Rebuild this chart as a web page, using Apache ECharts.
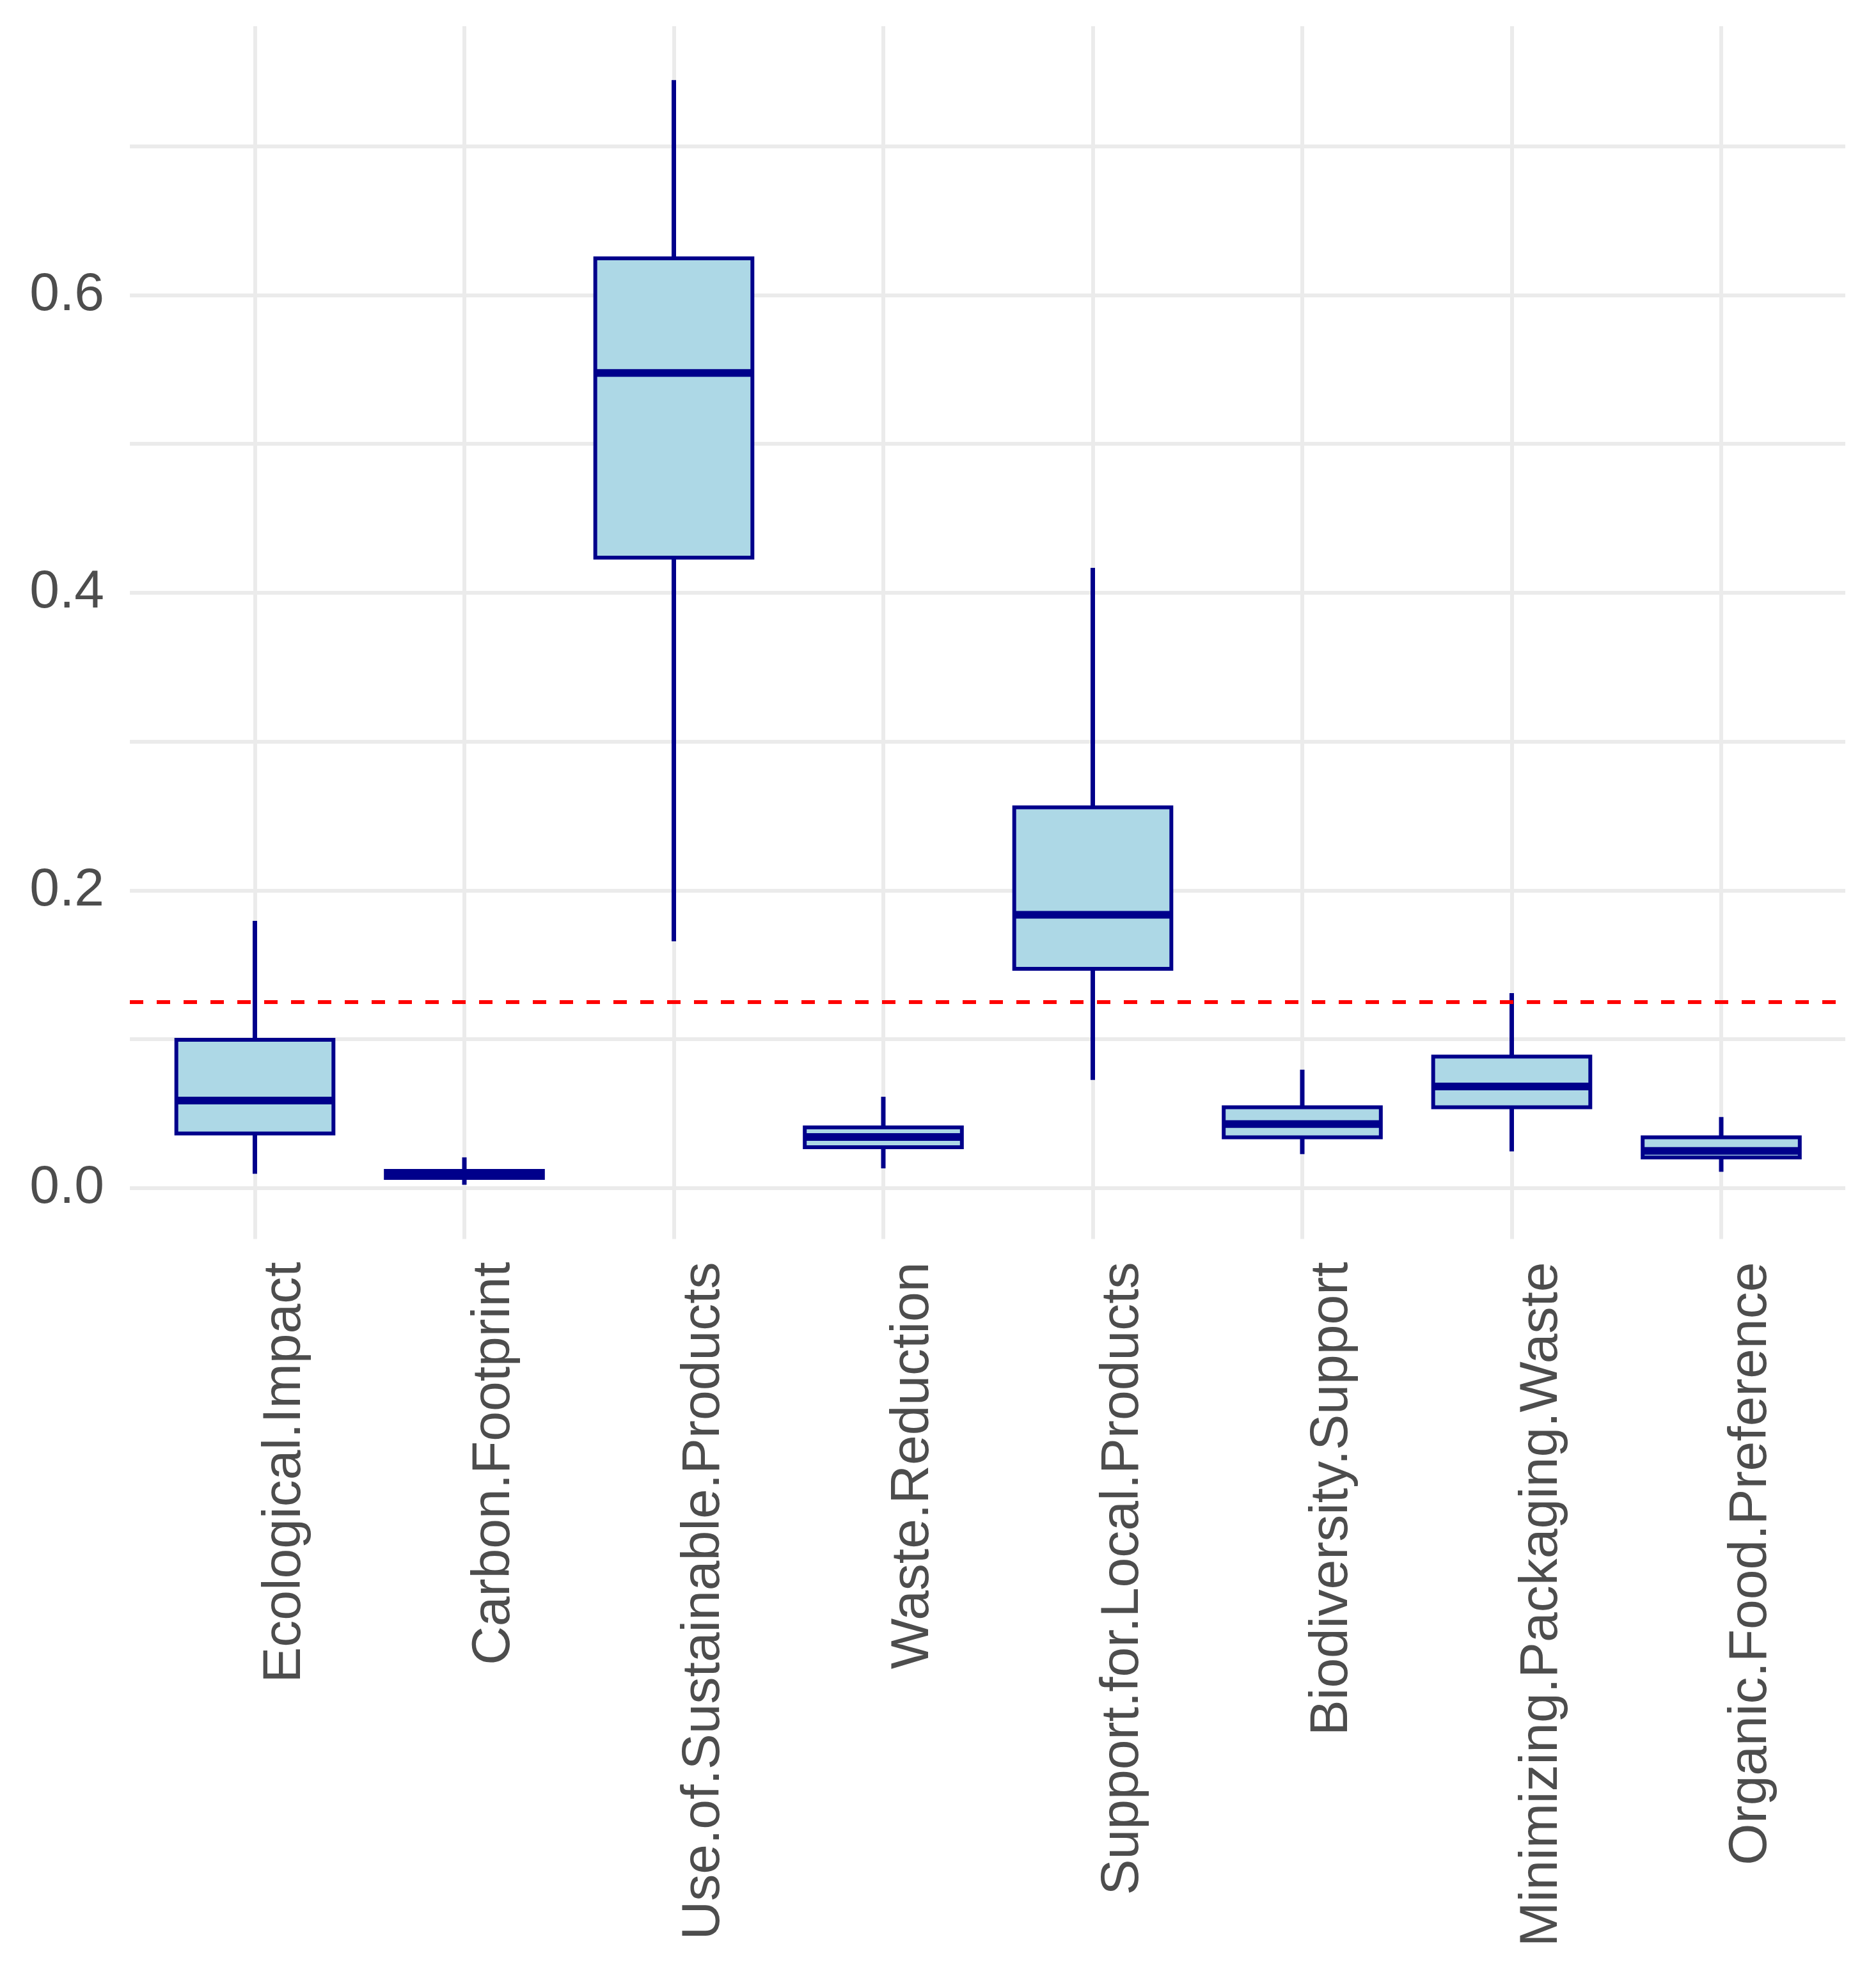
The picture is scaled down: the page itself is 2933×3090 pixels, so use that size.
<!DOCTYPE html>
<html>
<head>
<meta charset="utf-8">
<style>
    html, body {margin:0;padding:0;background:#ffffff;}
    #box-chart {width:2933px;height:3090px;}
</style>
<script src="https://cdn.jsdelivr.net/npm/echarts@6/dist/echarts.min.js"></script>
</head>
<body>
<div id="box-chart"></div>
<script>
    // 各指标的箱线图数据
    var categories = ['Ecological.Impact', 'Carbon.Footprint', 'Use.of.Sustainable.Products', 'Waste.Reduction',
        'Support.for.Local.Products', 'Biodiversity.Support', 'Minimizing.Packaging.Waste', 'Organic.Food.Preference'];
    var whiskerLow    = [0.0097, 0.0023, 0.1658, 0.0133, 0.0727, 0.0229, 0.0247, 0.0110];
    var lowerQuartile = [0.0367, 0.0069, 0.4236, 0.0275, 0.1474, 0.0342, 0.0543, 0.0206];
    var medianValue   = [0.0589, 0.0092, 0.5476, 0.0344, 0.1837, 0.0431, 0.0683, 0.0250];
    var upperQuartile = [0.0997, 0.0116, 0.6246, 0.0408, 0.2558, 0.0544, 0.0884, 0.0342];
    var whiskerHigh   = [0.1796, 0.0207, 0.7444, 0.0614, 0.4167, 0.0796, 0.1310, 0.0478];
    var threshold = 0.125;
    var yTickLabels = [0, 0.2, 0.4, 0.6];
    var yMin = -0.03415, yMax = 0.7806;

    var boxRows = categories.map(function (c, i) {
        return [i, whiskerLow[i], lowerQuartile[i], medianValue[i], upperQuartile[i], whiskerHigh[i]];
    });

    var textFont = "'Liberation Sans', Arial, sans-serif";
    var gridColor = '#EBEBEB';
    var boxFill = '#ADD8E6';
    var boxLine = '#00008B';

    function renderBox(params, api) {
        var i = api.value(0);
        var pLow = api.coord([i, api.value(1)]);
        var pQ1 = api.coord([i, api.value(2)]);
        var pMed = api.coord([i, api.value(3)]);
        var pQ3 = api.coord([i, api.value(4)]);
        var pHigh = api.coord([i, api.value(5)]);
        var half = api.size([1, 0])[0] * 0.375;
        var x = pMed[0];
        return {
            type: 'group',
            children: [
                {type: 'line', shape: {x1: x, y1: pHigh[1], x2: x, y2: pLow[1]},
                    style: {stroke: boxLine, lineWidth: 7}},
                {type: 'rect', shape: {x: x - half, y: pQ3[1], width: half * 2, height: pQ1[1] - pQ3[1]},
                    style: {fill: boxFill, stroke: boxLine, lineWidth: 6}},
                {type: 'line', shape: {x1: x - half, y1: pMed[1], x2: x + half, y2: pMed[1]},
                    style: {stroke: boxLine, lineWidth: 12}}
            ]
        };
    }

    var chart = echarts.init(document.getElementById('box-chart'), null, {renderer: 'canvas', devicePixelRatio: 1});
    var option = {
        animation: false,
        backgroundColor: '#ffffff',
        grid: [
            {left: 203, right: 48, top: 41, bottom: 1152.5},
            {left: 234.75, right: 78.25, top: 41, bottom: 1152.5},
            {left: 281.75, right: 31.25, top: 41, bottom: 1152.5}
        ],
        xAxis: [
            {type: 'value', gridIndex: 0, min: 0, max: 1, show: false},
            {
                type: 'category', gridIndex: 1, data: categories,
                axisLine: {show: false}, axisTick: {show: false}, axisLabel: {show: false},
                splitLine: {show: true, alignWithLabel: true, lineStyle: {color: gridColor, width: 6}}
            },
            {
                type: 'category', gridIndex: 2, data: categories,
                axisLine: {show: false}, axisTick: {show: false}, splitLine: {show: false},
                axisLabel: {
                    show: true, interval: 0, rotate: 90, margin: 36,
                    color: '#4D4D4D', fontSize: 84, fontFamily: textFont
                }
            }
        ],
        yAxis: [
            {
                type: 'value', gridIndex: 0, min: yMin, max: yMax,
                splitNumber: 8, minInterval: 0.1, maxInterval: 0.1,
                axisLine: {show: false}, axisTick: {show: false},
                splitLine: {show: true, showMinLine: false, showMaxLine: false, lineStyle: {color: gridColor, width: 6}},
                axisLabel: {
                    margin: 40, color: '#4D4D4D', fontSize: 84, fontFamily: textFont,
                    showMinLabel: false, showMaxLabel: false, padding: [16, 0, 0, 0],
                    formatter: function (v) {
                        for (var k = 0; k < yTickLabels.length; k++) {
                            if (Math.abs(v - yTickLabels[k]) < 1e-6) return yTickLabels[k].toFixed(1);
                        }
                        return '';
                    }
                }
            },
            {type: 'value', gridIndex: 1, min: yMin, max: yMax, show: false},
            {type: 'value', gridIndex: 2, min: yMin, max: yMax, show: false}
        ],
        series: [
            {
                type: 'custom', name: 'boxes', xAxisIndex: 1, yAxisIndex: 1,
                renderItem: renderBox,
                encode: {x: 0, y: [1, 2, 3, 4, 5]},
                data: boxRows, z: 2
            },
            {
                type: 'line', name: 'threshold', xAxisIndex: 0, yAxisIndex: 0,
                data: [[0, threshold], [1, threshold]],
                symbol: 'none', silent: true, z: 3,
                lineStyle: {color: '#FF0000', width: 6, type: [21, 21]}
            }
        ]
    };
    chart.setOption(option);
</script>
</body>
</html>
